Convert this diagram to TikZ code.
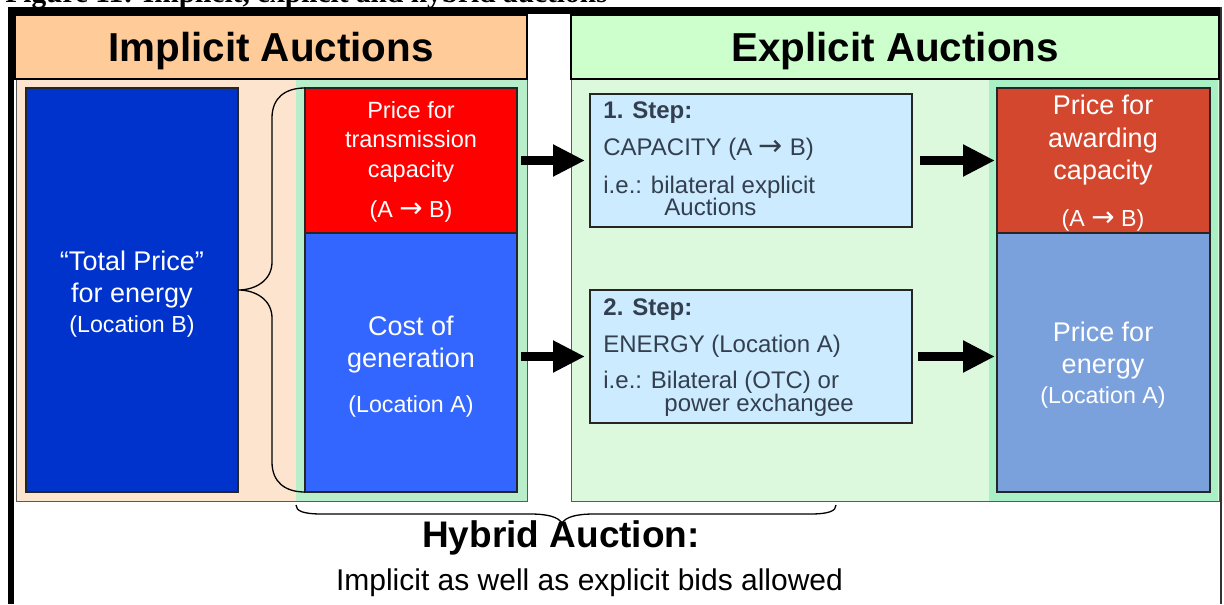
\documentclass[tikz,border=0pt]{standalone}
\usepackage{fontspec}
\setmainfont{Liberation Sans}
\newfontfamily\capfont{Liberation Serif}
\newfontfamily\symfont{DejaVu Sans}
\usetikzlibrary{arrows.meta}

\definecolor{hdrpeach}{HTML}{FFCC99}
\definecolor{hdrgreen}{HTML}{CCFFCC}
\definecolor{bodypeach}{HTML}{FCE4CF}
\definecolor{bandgreenI}{HTML}{B8EEC9}
\definecolor{bodygreen}{HTML}{DDF9DD}
\definecolor{bandgreenE}{HTML}{AAF0C6}
\definecolor{totblue}{HTML}{0033CC}
\definecolor{capred}{HTML}{FF0000}
\definecolor{genblue}{HTML}{3366FF}
\definecolor{stepfill}{HTML}{CCEBFF}
\definecolor{stepink}{HTML}{333F4F}
\definecolor{awardred}{HTML}{D2472E}
\definecolor{enblue}{HTML}{7BA1DD}
\definecolor{rimgray}{HTML}{5A5A5A}

% arrow glyph used in "(A -> B)"
\newcommand\ar{\scalebox{1.2}{\symfont\char"2192}}

\begin{document}
\begin{tikzpicture}[x=0.5pt,y=-0.5pt,
  sz/.style 2 args={minimum width={#1*0.5pt},minimum height={#2*0.5pt}},
  blk/.style={anchor=north west,inner sep=0pt,outer sep=0pt,draw=black!85,line width=0.6pt},
  hdr/.style={anchor=north west,inner sep=0pt,outer sep=0pt,draw=black,line width=1.1pt},
  hdrtxt/.style={anchor=base,inner sep=0pt,font=\fontsize{20.2}{24}\selectfont\bfseries},
  body/.style={anchor=north west,inner sep=0pt,outer sep=0pt,draw=rimgray,line width=0.5pt},
  band/.style={anchor=north west,inner sep=0pt,outer sep=0pt},
  big/.style={anchor=base,inner sep=0pt,text=white,font=\fontsize{13.5}{16}\selectfont},
  mid/.style={anchor=base,inner sep=0pt,text=white,font=\fontsize{11.75}{14}\selectfont},
  sml/.style={anchor=base,inner sep=0pt,text=white,font=\fontsize{11.6}{14}\selectfont},
  stp/.style={anchor=base west,inner sep=0pt,text=stepink,font=\fontsize{12}{14}\selectfont},
  stphead/.style={stp,font=\fontsize{12}{14}\selectfont\bfseries},
  bigarr/.style={line width=4.5pt,-{Triangle[length=16pt,width=15pt]}},
  brc/.style={line width=0.65pt,black}]

\useasboundingbox (0,0) rectangle (1224,604);
\clip (0,0) rectangle (1224,604);

% caption line above the figure frame
\node[anchor=base west,inner sep=0pt,font=\capfont\fontsize{14.7}{17}\selectfont\bfseries]
  (caption) at (5,2.5) {Figure 11: Implicit, explicit and hybrid auctions};

% outer frame
\fill[black] (8,7) rectangle (1222,14);
\fill[black] (8,7) rectangle (14,604);
\fill[black!80] (1219.5,7) rectangle (1222,604);

% panel bodies and shaded bands
\node[body,sz={511}{421},fill=bodypeach] (bodyI) at (16,80) {};
\node[band,sz={231}{420},fill=bandgreenI] (bandI) at (296,80.5) {};
\node[body,sz={648}{421},fill=bodygreen] (bodyE) at (571,80) {};
\node[band,sz={229}{420},fill=bandgreenE] (bandE) at (989,80.5) {};
\draw[rimgray,line width=0.5pt] (bodyI.north west) rectangle (bodyI.south east);
\draw[rimgray,line width=0.5pt] (bodyE.north west) rectangle (bodyE.south east);

% headers
\node[hdr,sz={512}{64},fill=hdrpeach] (hdrI) at (15,15) {};
\node[hdrtxt] (hdrIt) at (271,62) {Implicit Auctions};
\node[hdr,sz={648}{64},fill=hdrgreen] (hdrE) at (571,15) {};
\node[hdrtxt] (hdrEt) at (895,62) {Explicit Auctions};

% implicit side
\node[blk,sz={212}{404},fill=totblue] (tot) at (26,88) {};
\node[blk,sz={212}{145},fill=capred] (red) at (305,88) {};
\node[blk,sz={212}{259},fill=genblue] (blu) at (305,233) {};

\node[big] (tot1) at (132,270) {“Total Price”};
\node[big] (tot2) at (132,302) {for energy};
\node[sml] (tot3) at (132,332) {(Location B)};

\node[mid] (red1) at (411,119) {Price for};
\node[mid] (red2) at (411,148) {transmission};
\node[mid] (red3) at (411,177) {capacity};
\node[sml] (red4) at (411,218) {(A \ar\ B)};

\node[big] (blu1) at (411,335) {Cost of};
\node[big] (blu2) at (411,367) {generation};
\node[sml] (blu3) at (411,412) {(Location A)};

% explicit side: the two steps
\node[blk,sz={322}{133},fill=stepfill] (s1) at (590,94) {};
\node[blk,sz={322}{133},fill=stepfill] (s2) at (590,290) {};

\node[stphead] (s1a) at (603,119) {1. Step:};
\node[stp] (s1b) at (603,156) {CAPACITY (A \ar\ B)};
\node[stp] (s1c) at (603,193) {i.e.: bilateral explicit};
\node[stp] (s1d) at (664,215) {Auctions};

\node[stphead] (s2a) at (603,315) {2. Step:};
\node[stp] (s2b) at (603,352) {ENERGY (Location A)};
\node[stp] (s2c) at (603,388) {i.e.: Bilateral (OTC) or};
\node[stp] (s2d) at (664,411) {power exchangee};

% explicit side: resulting prices
\node[blk,sz={213}{145},fill=awardred] (org) at (997,88) {};
\node[blk,sz={213}{259},fill=enblue] (lbl) at (997,233) {};

\node[big] (org1) at (1103,115) {Price for};
\node[big] (org2) at (1103,148) {awarding};
\node[big] (org3) at (1103,180) {capacity};
\node[sml] (org4) at (1103,227) {(A \ar\ B)};

\node[big] (lbl1) at (1103,341) {Price for};
\node[big] (lbl2) at (1103,373) {energy};
\node[sml] (lbl3) at (1103,403) {(Location A)};

% block arrows
\draw[bigarr,shorten <=2pt,shorten >=2.5pt] (red.east |- s1.west) -- (s1.west);
\draw[bigarr,shorten <=2pt,shorten >=2.5pt] (blu.east |- s2.west) -- (s2.west);
\draw[bigarr,shorten <=4pt,shorten >=1pt] (s1.east) -- (s1.east -| org.west);
\draw[bigarr,shorten <=3pt,shorten >=1pt] (s2.east) -- (s2.east -| lbl.west);

% brace grouping the two cost components into the total price
\draw[brc] (red.north west) .. controls (285,88) and (272,98) .. (272,118)
  -- (272,262) .. controls (272,280) and (256,290) .. (tot.east)
  .. controls (256,290) and (272,300) .. (272,318)
  -- (272,462) .. controls (272,482) and (285,492) .. (blu.south west);

% brace spanning the hybrid auction
\coordinate (hbL) at (296,505);
\coordinate (hbR) at (836,505);
\draw[brc] (hbL) .. controls (296,511) and (303,514) .. (322,514) -- (530,514)
  .. controls (548,514) and (558,517) .. (562,523)
  .. controls (566,517) and (576,514) .. (594,514) -- (810,514)
  .. controls (829,514) and (836,511) .. (hbR);

\node[anchor=base,inner sep=0pt,font=\fontsize{18.5}{22}\selectfont\bfseries] (hyb) at (561,547) {Hybrid Auction:};
\node[anchor=base,inner sep=0pt,font=\fontsize{15}{18}\selectfont] (hybt) at (589.5,590) {Implicit as well as explicit bids allowed};

\end{tikzpicture}
\end{document}
